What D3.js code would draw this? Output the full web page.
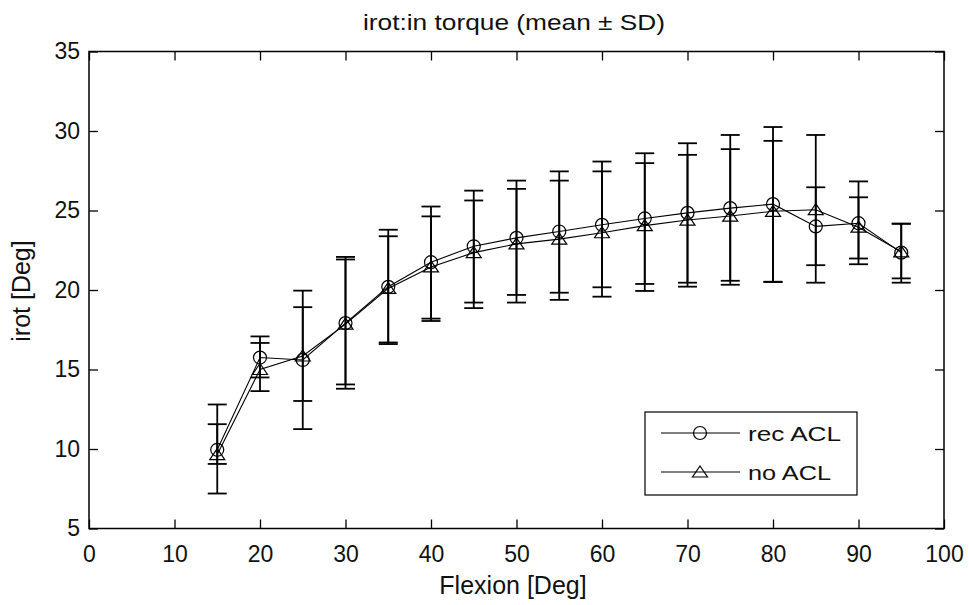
<!DOCTYPE html>
<html><head><meta charset="utf-8">
<script src="https://cdn.jsdelivr.net/npm/d3@7"></script>
<style>body{margin:0;background:#fff}</style>
</head><body>
<svg id="c" width="969" height="605"></svg>
<script>
const flexion = [15,20,25,30,35,40,45,50,55,60,65,70,75,80,85,90,95];
const recMean = [9.95,15.75,15.6,17.92,20.2,21.75,22.75,23.28,23.68,24.1,24.5,24.85,25.15,25.4,24.0,24.2,22.35];
const recLow  = [7.2,14.5,11.25,13.79,16.6,18.2,19.21,19.69,19.83,20.17,20.38,20.46,20.58,20.52,21.56,21.62,20.46];
const recHigh = [12.8,17.08,19.96,22.08,23.79,25.25,26.25,26.88,27.46,28.08,28.6,29.23,29.75,30.25,26.46,26.83,24.17];
const noMean  = [9.65,15.0,15.85,17.85,20.1,21.45,22.35,22.9,23.2,23.6,24.05,24.4,24.65,24.95,25.05,23.95,22.4];
const noLow   = [9.06,13.64,13.02,14.06,16.7,18.05,18.86,19.21,19.38,19.58,19.94,20.21,20.33,20.5,20.46,21.98,20.73];
const noHigh  = [11.56,16.67,18.92,21.92,23.38,24.63,25.63,26.36,26.88,27.46,27.98,28.5,28.86,29.38,29.75,25.83,24.17];
const xTicks = [0,10,20,30,40,50,60,70,80,90,100];
const yTicks = [5,10,15,20,25,30,35];
const seriesNames = ["rec ACL","no ACL"];
const titleText = "irot:in torque (mean \u00b1 SD)";
const xLabelText = "Flexion [Deg]";
const yLabelText = "irot [Deg]";

const svg = d3.select("#c");
const font = "'Liberation Sans', Arial, sans-serif";
const L = 89, R = 944, T = 51.5, B = 528.5;
const x = d3.scaleLinear().domain([0,100]).range([L,R]);
const y = d3.scaleLinear().domain([5,35]).range([B,T]);

svg.append("rect").attr("width",969).attr("height",605).attr("fill","#fff");

function styleAxis(g, showText){
  g.select(".domain").remove();
  g.selectAll(".tick line").attr("stroke","#000").attr("stroke-width",1.3);
  g.selectAll(".tick text").attr("fill","#111").style("font-family",font).style("font-size","23px");
  if(!showText) g.selectAll(".tick text").remove();
}
svg.append("g").attr("transform",`translate(0,${B})`)
  .call(d3.axisBottom(x).tickValues(xTicks).tickSizeInner(-9).tickSizeOuter(0).tickPadding(17))
  .call(g=>styleAxis(g,true));
svg.append("g").attr("transform",`translate(0,${T})`)
  .call(d3.axisTop(x).tickValues(xTicks).tickSizeInner(-9).tickSizeOuter(0))
  .call(g=>styleAxis(g,false));
svg.append("g").attr("transform",`translate(${L},0)`)
  .call(d3.axisLeft(y).tickValues(yTicks).tickSizeInner(-9).tickSizeOuter(0).tickPadding(9))
  .call(g=>styleAxis(g,true));
svg.append("g").attr("transform",`translate(${R},0)`)
  .call(d3.axisRight(y).tickValues(yTicks).tickSizeInner(-9).tickSizeOuter(0))
  .call(g=>styleAxis(g,false));

svg.append("rect").attr("x",L).attr("y",T).attr("width",R-L).attr("height",B-T)
  .attr("fill","none").attr("stroke","#000").attr("stroke-width",1.5);

const series = [
  {name:seriesNames[0], mean:recMean, lo:recLow, hi:recHigh, marker:"circle"},
  {name:seriesNames[1], mean:noMean, lo:noLow, hi:noHigh, marker:"triangle"}
];
const capW = 9.5;
const triPath = "M0,-6L7.5,5L-7.5,5Z";
function drawMarker(g, type, cx, cy){
  if(type==="circle"){
    g.append("circle").attr("cx",cx).attr("cy",cy).attr("r",6.5)
      .attr("fill","none").attr("stroke","#000").attr("stroke-width",1.2);
  } else {
    g.append("path").attr("d",triPath).attr("transform",`translate(${cx},${cy})`)
      .attr("fill","none").attr("stroke","#000").attr("stroke-width",1.2);
  }
}
const line = d3.line();
series.forEach(s=>{
  const g = svg.append("g");
  flexion.forEach((f,i)=>{
    const xx = x(f);
    g.append("line").attr("x1",xx).attr("x2",xx).attr("y1",y(s.lo[i])).attr("y2",y(s.hi[i]))
      .attr("stroke","#000").attr("stroke-width",1.8);
    [s.lo[i], s.hi[i]].forEach(v=>{
      g.append("line").attr("x1",xx-capW).attr("x2",xx+capW).attr("y1",y(v)).attr("y2",y(v))
        .attr("stroke","#000").attr("stroke-width",1.8);
    });
  });
  g.append("path").attr("d",line(flexion.map((f,i)=>[x(f),y(s.mean[i])])))
    .attr("fill","none").attr("stroke","#000").attr("stroke-width",1.1);
  flexion.forEach((f,i)=>drawMarker(g,s.marker,x(f),y(s.mean[i])));
});

// legend
const lg = svg.append("g");
lg.append("rect").attr("x",645).attr("y",412).attr("width",212).attr("height",83)
  .attr("fill","#fff").attr("stroke","#000").attr("stroke-width",1.2);
series.forEach((s,i)=>{
  const ly = 433 + i*39;
  lg.append("line").attr("x1",661).attr("x2",740).attr("y1",ly).attr("y2",ly)
    .attr("stroke","#000").attr("stroke-width",1.1);
  drawMarker(lg,s.marker,700,ly);
  lg.append("text").attr("x",748).attr("y",ly).attr("dy","0.36em")
    .attr("textLength", i===0?93:83).attr("lengthAdjust","spacingAndGlyphs")
    .style("font-family",font).style("font-size","21px").attr("fill","#111").text(s.name);
});

// title & labels
svg.append("text").attr("x",514).attr("y",30).attr("text-anchor","middle")
  .attr("textLength",302).attr("lengthAdjust","spacingAndGlyphs")
  .style("font-family",font).style("font-size","22px").attr("fill","#111").text(titleText);
svg.append("text").attr("x",513).attr("y",594).attr("text-anchor","middle")
  .style("font-family",font).style("font-size","25px").attr("fill","#111").text(xLabelText);
svg.append("text").attr("transform","translate(30,291) rotate(-90)").attr("text-anchor","middle")
  .style("font-family",font).style("font-size","25px").attr("fill","#111").text(yLabelText);
</script>
</body></html>
